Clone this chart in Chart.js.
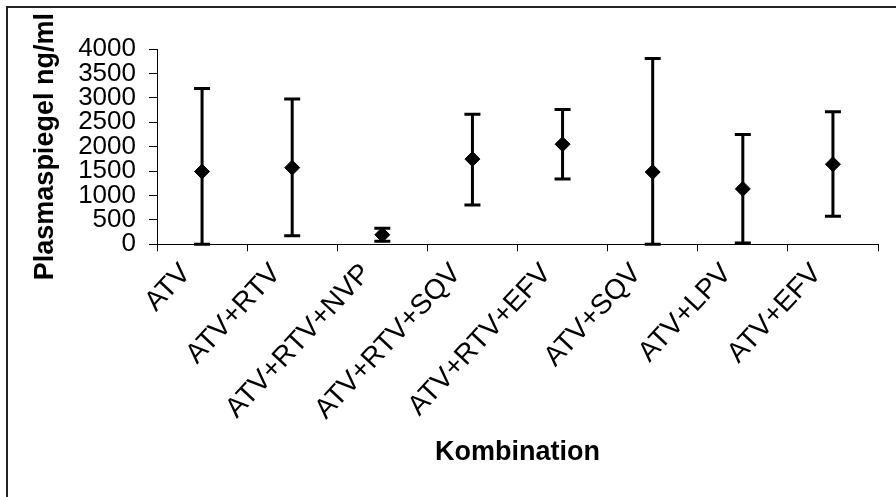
<!DOCTYPE html>
<html>
<head>
<meta charset="utf-8">
<title>Plasmaspiegel</title>
<script src="https://cdn.jsdelivr.net/npm/chart.js@4"></script>
<style>
    html, body { margin: 0; padding: 0; background: #fff; }
    .chart-box { position: relative; width: 896px; height: 497px; }
    .frame {
        position: absolute; left: 6px; top: 6px; right: 0; bottom: 0;
        border-left: 2px solid #222; border-top: 2px solid #222;
        pointer-events: none;
    }
</style>
</head>
<body>
<div class="chart-box">
    <canvas id="PlasmaChart"></canvas>
    <div class="frame"></div>
</div>
<script>
const combinations = ['ATV', 'ATV+RTV', 'ATV+RTV+NVP', 'ATV+RTV+SQV', 'ATV+RTV+EFV', 'ATV+SQV', 'ATV+LPV', 'ATV+EFV'];
const means = [1490, 1570, 195, 1745, 2050, 1480, 1135, 1640];
const lows = [0, 175, 60, 805, 1335, 0, 25, 575];
const highs = [3190, 2975, 330, 2665, 2760, 3805, 2250, 2715];
const yTicks = [0, 500, 1000, 1500, 2000, 2500, 3000, 3500, 4000];

const axisFont = 'Liberation Sans, Arial, sans-serif';

// draws the min/max whiskers under the diamonds
const errorBars = {
    id: 'errorBars',
    beforeDatasetsDraw(chart) {
        const ctx = chart.ctx;
        const xs = chart.scales.x;
        const ys = chart.scales.y;
        ctx.save();
        ctx.strokeStyle = '#000';
        ctx.lineWidth = 3;
        means.forEach((m, i) => {
            const x = xs.getPixelForValue(i);
            const top = ys.getPixelForValue(highs[i]);
            const bot = ys.getPixelForValue(lows[i]);
            ctx.beginPath();
            ctx.moveTo(x, top);
            ctx.lineTo(x, bot);
            ctx.moveTo(x - 8, top);
            ctx.lineTo(x + 8, top);
            ctx.moveTo(x - 8, bot);
            ctx.lineTo(x + 8, bot);
            ctx.stroke();
        });
        ctx.restore();
    }
};

const ctx = document.getElementById('PlasmaChart');

new Chart(ctx, {
    type: 'line',
    data: {
        labels: combinations,
        datasets: [{
            label: 'Plasmaspiegel',
            data: means,
            showLine: false,
            pointStyle: 'rectRot',
            pointRadius: 7.5,
            pointBorderWidth: 1,
            pointBackgroundColor: '#000',
            pointBorderColor: '#000'
        }]
    },
    options: {
        responsive: true,
        maintainAspectRatio: false,
        animation: false,
        layout: { padding: { left: 0, right: 18, top: 49, bottom: 0 } },
        plugins: {
            legend: { display: false },
            tooltip: { enabled: false }
        },
        scales: {
            x: {
                offset: true,
                grid: { offset: true, drawOnChartArea: false, drawTicks: true, tickLength: 7, color: '#000' },
                border: { display: true, color: '#000', width: 1 },
                ticks: {
                    color: '#000',
                    font: { family: axisFont, size: 28 },
                    minRotation: 47,
                    maxRotation: 47,
                    padding: 6,
                    labelOffset: -16,
                    autoSkip: false
                },
                title: {
                    display: true,
                    text: 'Kombination',
                    color: '#000',
                    font: { family: axisFont, size: 27, weight: 'bold' },
                    padding: { top: 0, bottom: 28 }
                },
                afterFit(scale) { scale.height = 252.7; }
            },
            y: {
                min: 0,
                max: 4000,
                afterBuildTicks(scale) { scale.ticks = yTicks.map(v => ({ value: v })); },
                grid: { drawOnChartArea: false, drawTicks: true, tickLength: 8, color: '#000' },
                border: { display: true, color: '#000', width: 1 },
                ticks: {
                    color: '#000',
                    font: { family: axisFont, size: 26, lineHeight: 0.9 },
                    padding: 13,
                    autoSkip: false,
                    callback: (v) => String(v)
                },
                title: {
                    display: true,
                    text: 'Plasmaspiegel ng/ml',
                    color: '#000',
                    font: { family: axisFont, size: 27, weight: 'bold' },
                    padding: { top: 29, bottom: 0 }
                },
                afterFit(scale) { scale.width = 157; }
            }
        }
    },
    plugins: [errorBars]
});
</script>
</body>
</html>
